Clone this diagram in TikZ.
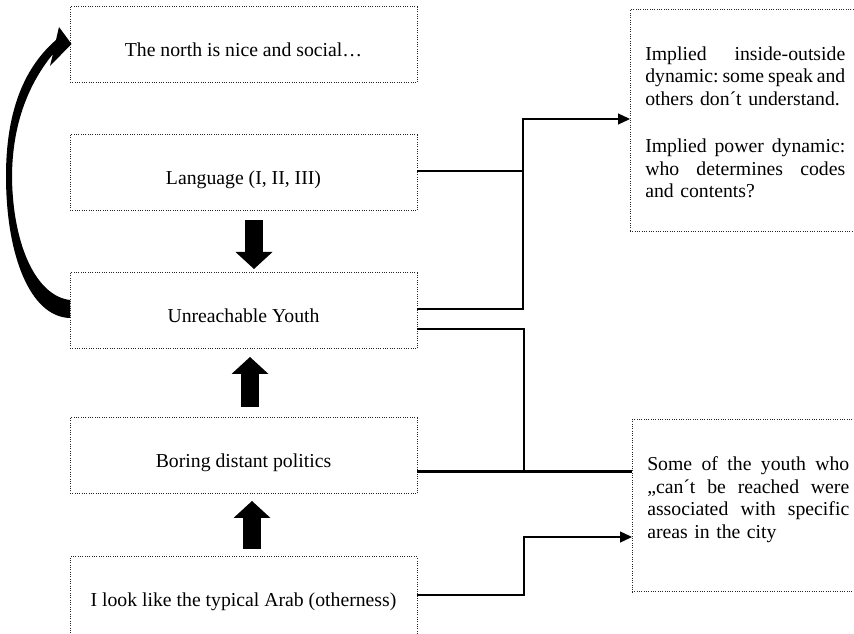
\documentclass[tikz,border=0pt]{standalone}
\usepackage{fontspec}
\setmainfont{Liberation Serif}
\usetikzlibrary{arrows.meta}
\newcommand{\spreadline}[2]{\makebox[#1][l]{#2}}
\begin{document}
\begin{tikzpicture}[x=0.75pt,y=-0.75pt,
  dotbox/.style={draw=black!85, densely dotted, line width=0.75pt, inner sep=0pt, outer sep=0pt, anchor=north west},
  leftbox/.style={dotbox, minimum width=260.25pt, minimum height=57pt,
    font=\fontsize{14.8pt}{17pt}\selectfont, text height=21pt, text depth=3pt},
  sidetext/.style={anchor=north west, inner sep=0pt, text width=152pt, align=left,
    font=\fontsize{14.8pt}{16.85pt}\selectfont},
  link/.style={line width=2.2pt},
  tip/.style={-{Triangle[length=9pt,width=8.5pt,line width=0pt]}},
  blockarrow/.style={line width=13.5pt, -{Triangle[length=12.75pt,width=27.75pt,line width=0pt]}},
  curvefill/.style={fill=black}
]
\useasboundingbox (0,0) rectangle (854,634);
\clip (0,0) rectangle (854,634);

% left column
\node[leftbox] (north) at (70,7) {The north is nice and social…};
\node[leftbox] (lang) at (70,135) {Language (I, II, III)};
\node[leftbox] (unreach) at (70,273) {Unreachable Youth};
\node[leftbox] (boring) at (70,418) {Boring distant politics};
\node[leftbox, minimum height=60pt, text height=18pt] (arab) at (70,557) {I look like the typical Arab (otherness)};

% right column
\node[dotbox, minimum width=180pt, minimum height=166.5pt] (dynbox) at (630,10) {};
\node[sidetext] (dyntext) at (645,46.5)
  {\spreadline{150pt}{Implied\hfill inside-outside}\\
   \spreadline{150pt}{dynamic:\hfill some\hfill speak\hfill and}\\
   others don´t understand.\\[18.75pt]
   \spreadline{150pt}{Implied\hfill power\hfill dynamic:}\\
   \spreadline{150pt}{who\hfill determines\hfill codes}\\
   and contents?};

\node[dotbox, minimum width=180pt, minimum height=129pt] (areabox) at (632,420) {};
\node[sidetext] (areatext) at (647,456.5)
  {\spreadline{151.5pt}{Some\hfill of\hfill the\hfill youth\hfill who}\\
   \spreadline{151.5pt}{„can´t\hfill be\hfill reached\hfill were}\\
   \spreadline{151.5pt}{associated\hfill with\hfill specific}\\
   areas in the city};

% block arrows between the boxes
\draw[blockarrow] ([shift={(10.5,9)}]lang.south) -- ([shift={(10.5,-4)}]unreach.north);
\draw[blockarrow] ([shift={(6.5,-11)}]boring.north) -- ([shift={(6.5,8)}]unreach.south);
\draw[blockarrow] ([shift={(8.5,-8)}]arab.north) -- ([shift={(8.5,7)}]boring.south);

% curved arrow back to the top box
\coordinate (cb1) at ([shift={(0,-11)}]unreach.west);
\coordinate (cb2) at ([shift={(0,7)}]unreach.west);
\coordinate (ctip) at ([shift={(1.5,-1)}]north.west);
\fill[curvefill] (cb1) .. controls (36,296) and (13,245) .. (12,178)
  .. controls (12,122) and (30,82) .. (53,54) -- (50,66) -- (ctip) -- (59,27) -- (56,40)
  .. controls (26,66) and (6,108) .. (6,176)
  .. controls (6,255) and (30,317) .. (cb2) -- cycle;

% connectors to the right boxes
\coordinate (lout) at ([shift={(0,-2)}]lang.east);
\coordinate (uout1) at ([shift={(0,-2)}]unreach.east);
\coordinate (uout2) at ([shift={(0,18)}]unreach.east);
\coordinate (bout) at ([shift={(0,15.5)}]boring.east);
\coordinate (aout) at ([shift={(0,-2)}]arab.east);

\draw[link] (lout) -- ++(106,0);
\draw[link, tip] (uout1) -- ++(106,0) |- ([shift={(0,-2)}]dynbox.west);
\draw[link] (uout2) -- ++(107,0) -- ++(0,142);
\draw[link] (bout) -- (bout -| areabox.west);
\draw[link, tip] (aout) -- ++(107,0) |- ([shift={(0,31)}]areabox.west);
\end{tikzpicture}
\end{document}
